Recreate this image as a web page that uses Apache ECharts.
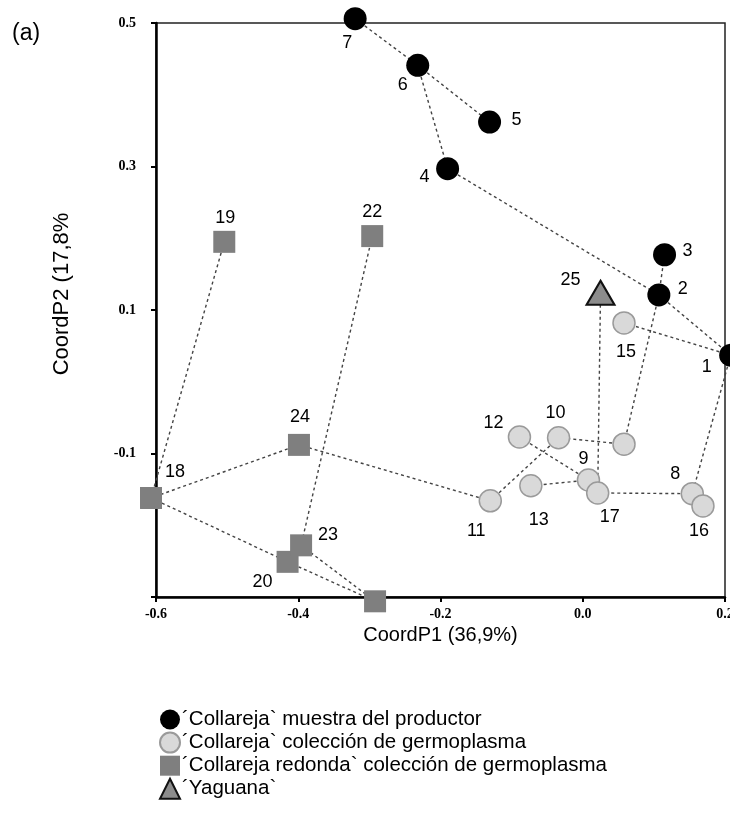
<!DOCTYPE html>
<html>
<head>
<meta charset="utf-8">
<script src="https://cdn.jsdelivr.net/npm/echarts@6/dist/echarts.min.js"></script>
<style>
html,body{margin:0;padding:0;background:#fff;}
#chart{width:730px;height:815px;}
</style>
</head>
<body>
<div id="chart"></div>
<script>
// ---- data ----
const productorIds = [1, 2, 3, 4, 5, 6, 7];
const productorX = [0.208, 0.107, 0.115, -0.190, -0.131, -0.232, -0.320];
const productorY = [0.037, 0.121, 0.177, 0.297, 0.362, 0.441, 0.506];

const germoIds = [8, 9, 10, 11, 12, 13, 14, 15, 16, 17];
const germoX = [0.154, 0.008, -0.034, -0.130, -0.089, -0.073, 0.058, 0.058, 0.169, 0.021];
const germoY = [-0.156, -0.137, -0.078, -0.166, -0.077, -0.145, -0.087, 0.082, -0.173, -0.155];

const redondaIds = [18, 19, 20, 21, 22, 23, 24];
const redondaX = [-0.607, -0.504, -0.415, -0.292, -0.296, -0.396, -0.399];
const redondaY = [-0.162, 0.195, -0.251, -0.306, 0.203, -0.228, -0.088];

const yaguanaIds = [25];
const yaguanaX = [0.025];
const yaguanaY = [0.124];

const edges = [[7,6],[6,5],[6,4],[4,2],[2,3],[2,1],[1,15],[2,14],[1,8],[8,16],[8,17],
  [17,9],[25,17],[9,13],[9,12],[14,10],[10,11],[11,24],[24,18],[18,19],[18,20],
  [20,21],[23,21],[22,23]];

const hiddenLabels = [14, 21];

const seriesNames = [
  "\u00B4Collareja` muestra del productor",
  "\u00B4Collareja` colecci\u00F3n de germoplasma",
  "\u00B4Collareja redonda` colecci\u00F3n de germoplasma",
  "\u00B4Yaguana`"
];

const xTitle = 'CoordP1 (36,9%)';
const yTitle = 'CoordP2 (17,8%';

const xTicks = [-0.6, -0.4, -0.2, 0.0, 0.2];
const yTicks = [-0.1, 0.1, 0.3, 0.5];

// ---- label placement (style) ----
const labelOffset = {
  1:[-24,12], 2:[24,-6], 3:[23,-4], 4:[-23,8], 5:[27,-2], 6:[-15,20], 7:[-8,24],
  8:[-17,-20], 9:[-5,-21], 10:[-3,-25], 11:[-14,30], 12:[-26,-14], 13:[8,34],
  15:[2,29], 16:[-4,25], 17:[12,24], 18:[24,-26], 19:[1,-24], 20:[-25,20],
  22:[0,-24], 23:[27,-10], 24:[1,-28], 25:[-30,-13]
};

const pos = {};
function build(ids, xs, ys) {
  return ids.map((id, i) => {
    pos[id] = [xs[i], ys[i]];
    const hide = hiddenLabels.indexOf(id) >= 0;
    const off = labelOffset[id] || [0, 0];
    return {
      value: [xs[i], ys[i]],
      name: String(id),
      label: {
        show: !hide,
        position: 'inside',
        offset: off,
        formatter: String(id),
        color: '#000',
        fontSize: 18,
        fontFamily: 'Liberation Sans, Arial, sans-serif'
      }
    };
  });
}

const dProd = build(productorIds, productorX, productorY);
const dGerm = build(germoIds, germoX, germoY);
const dRed = build(redondaIds, redondaX, redondaY);
const dYag = build(yaguanaIds, yaguanaX, yaguanaY);

const lineData = edges.map(e => ({ coords: [pos[e[0]], pos[e[1]]] }));

const chart = echarts.init(document.getElementById('chart'), null, { renderer: 'canvas' });

const tickFont = { fontFamily: 'Liberation Serif, Times New Roman, serif', fontWeight: 'bold', fontSize: 14, color: '#000' };
const sans = 'Liberation Sans, Arial, sans-serif';

chart.setOption({
  animation: false,
  backgroundColor: '#fff',
  grid: {
    left: 156, top: 23, width: 569, height: 574,
    outerBoundsMode: 'none', containLabel: false,
    show: true, borderColor: '#222', borderWidth: 1.5, backgroundColor: 'transparent'
  },
  xAxis: {
    type: 'value', min: -0.6, max: 0.2, interval: 0.2,
    name: xTitle, nameLocation: 'middle', nameGap: 27,
    nameTextStyle: { fontFamily: sans, fontSize: 20, color: '#000' },
    axisLine: { show: true, onZero: false, lineStyle: { color: '#000', width: 2.5 } },
    axisTick: { show: true, length: 5, lineStyle: { color: '#000', width: 2 } },
    axisLabel: Object.assign({ margin: 10, hideOverlap: false, formatter: v => {
      const t = xTicks.find(k => Math.abs(k - v) < 1e-9);
      return t === undefined ? '' : t.toFixed(1);
    } }, tickFont),
    splitLine: { show: false }
  },
  yAxis: {
    type: 'value', min: -0.3, max: 0.5, interval: 0.2,
    axisLine: { show: true, onZero: false, lineStyle: { color: '#000', width: 2.5 } },
    axisTick: { show: true, length: 5, lineStyle: { color: '#000', width: 2 } },
    axisLabel: Object.assign({ margin: 20, formatter: v => {
      const t = yTicks.find(k => Math.abs(k - v) < 1e-9);
      return t === undefined ? '' : t.toFixed(1);
    } }, tickFont),
    splitLine: { show: false }
  },
  legend: {
    orient: 'vertical', left: 159, top: 709, padding: 0,
    itemWidth: 20, itemHeight: 20, itemGap: 1.6,
    data: seriesNames,
    textStyle: { fontFamily: sans, fontSize: 20.5, lineHeight: 20, color: '#000', padding: [0, 0, 0, -3] }
  },
  graphic: [
    {
      type: 'text', left: 12, top: 22,
      style: { text: '(a)', fontFamily: sans, fontSize: 23, fill: '#000' }
    },
    {
      type: 'text', x: 62, y: 294, rotation: Math.PI / 2,
      style: { text: yTitle, fontFamily: sans, fontSize: 22, fill: '#000', align: 'center', verticalAlign: 'middle' }
    }
  ],
  series: [
    {
      type: 'lines', coordinateSystem: 'cartesian2d', clip: false, silent: true,
      lineStyle: { color: '#444', width: 1.4, type: [3, 3], opacity: 1 },
      data: lineData, z: 1
    },
    {
      name: seriesNames[0], type: 'scatter', clip: false, symbol: 'circle', symbolSize: 23,
      itemStyle: { color: '#000', opacity: 1 }, data: dProd, z: 3
    },
    {
      name: seriesNames[1], type: 'scatter', clip: false, symbol: 'circle', symbolSize: 22,
      itemStyle: { color: '#d9d9d9', borderColor: '#9a9a9a', borderWidth: 1.5, opacity: 1 }, data: dGerm, z: 3
    },
    {
      name: seriesNames[2], type: 'scatter', clip: false, symbol: 'rect', symbolSize: 22,
      itemStyle: { color: '#7f7f7f', opacity: 1 }, data: dRed, z: 3
    },
    {
      name: seriesNames[3], type: 'scatter', clip: false, symbol: 'triangle', symbolSize: [28, 24],
      itemStyle: { color: '#8c8c8c', borderColor: '#111', borderWidth: 2, opacity: 1 }, data: dYag, z: 3
    }
  ]
});
</script>
</body>
</html>
